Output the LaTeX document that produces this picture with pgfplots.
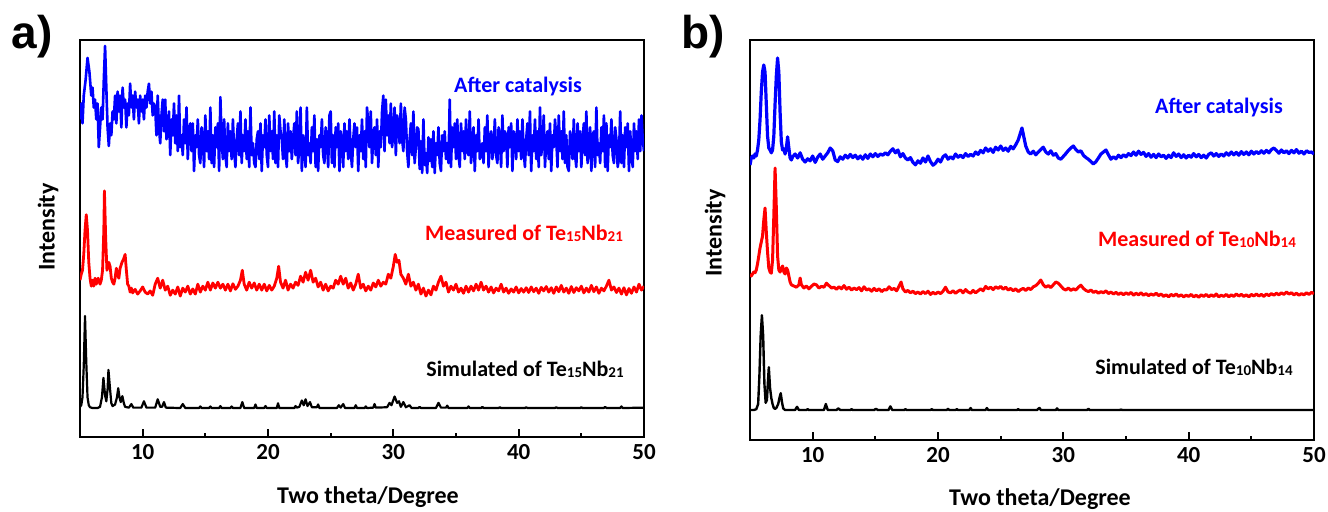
\documentclass[border=0pt]{standalone}
\usepackage{fontspec}
\setmainfont{Carlito}
\newfontfamily\panelfont{Liberation Sans}
\usepackage{pgfplots}
\pgfplotsset{compat=1.18}
\definecolor{xblue}{RGB}{0,0,255}
\definecolor{xred}{RGB}{255,0,0}

\newcommand{\sub}[1]{\raisebox{-0.9pt}{\fontsize{7.5}{8}\selectfont #1}}

\pgfplotsset{
  xrd/.style={
    scale only axis,
    xmin=5, xmax=50, ymin=0, ymax=100,
    ytick=\empty,
    xtick={10,20,30,40,50},
    minor xtick={15,25,35,45},
    xtick pos=bottom,
    tick align=inside,
    major tick length=4pt,
    minor tick length=2.2pt,
    axis line style={line width=1.3pt},
    every tick/.style={black, line width=1pt},
    tick label style={font=\fontsize{11.5}{13}\selectfont\bfseries},
    /pgf/number format/assume math mode=true,
    clip=true,
  },
  blueline/.style={xblue, line width=1.3pt, line join=round},
  redline/.style={xred, line width=1.4pt, line join=round},
  blackline/.style={black, line width=1.1pt, line join=round},
}

\begin{document}
\begin{tikzpicture}[x=0.5pt,y=0.5pt]
\path[use as bounding box] (0,0) rectangle (1328,511);

% ---------------- panel a ----------------
\begin{axis}[xrd, at={(40pt,37pt)}, anchor=south west, width=282pt, height=198.5pt]

% after catalysis
\addplot[blueline] coordinates {
(5.0,80)(5.1,84)(5.2,79)(5.3,86)(5.45,90)(5.6,95.5)(5.75,92)(5.9,86)(6.0,88)(6.1,83)
(6.2,85)(6.3,80)(6.4,84)(6.5,73)(6.6,78)(6.7,83)(6.8,80)(6.9,90)(7.0,98.5)(7.1,88)
(7.2,78)(7.3,73.3)(7.4,79)(7.5,76)(7.6,82)(7.7,80)(7.8,86)(7.9,79)(8.0,87)(8.1,82)
(8.2,86)(8.3,78)(8.4,88)(8.5,83)(8.6,85)(8.7,78)(8.8,84)(8.9,81)(9.0,89)(9.1,83)
(9.2,86)(9.3,80)(9.4,87)(9.5,83)(9.6,85)(9.7,79)(9.8,86)(9.9,82)(10.0,85)(10.1,80)
(10.2,86)(10.3,83)(10.4,87)(10.5,89)(10.6,84)(10.7,87)(10.8,81)(10.9,84)(11.0,83)(11.1,76)
(11.2,86)(11.3,78)(11.4,74)(11.5,81)(11.6,85)(11.7,77)(11.8,85)(11.9,75)(12.0,77)(12.1,82)
(12.2,71)(12.3,80)(12.4,76)(12.5,84)(12.6,74)(12.7,81)(12.8,72)(12.9,86)(13.0,73)(13.1,76)
(13.2,71)(13.3,80)(13.4,74)(13.5,83)(13.6,70)(13.7,77)(13.8,79)(13.9,72)(14.0,79)(14.1,67)
(14.2,76)(14.3,73)(14.4,80)(14.5,71)(14.6,69)(14.7,78)(14.8,75)(14.9,68)(15.0,81)(15.1,72)
(15.2,77)(15.3,70)(15.4,83)(15.5,69)(15.6,76)(15.7,68)(15.8,78)(15.9,73)(16.0,79)(16.1,67)
(16.2,85.6)(16.3,75)(16.4,70)(16.5,80)(16.6,71)(16.7,68)(16.8,79)(16.9,72)(17.0,77)(17.1,70)
(17.2,80)(17.3,72)(17.4,68)(17.5,75)(17.6,79)(17.7,71)(17.8,82)(17.9,69)(18.0,76)(18.1,72)
(18.2,80)(18.3,70)(18.4,77)(18.5,68)(18.6,83)(18.7,71)(18.8,74)(18.9,69)(19.0,68)(19.1,75)
(19.2,77)(19.3,70)(19.4,79)(19.5,67)(19.6,76)(19.7,73)(19.8,80)(19.9,71)(20.0,68)(20.1,81)
(20.2,72)(20.3,77)(20.4,70)(20.5,82)(20.6,69)(20.7,76)(20.8,68)(20.9,81)(21.0,77)(21.1,75)
(21.2,70)(21.3,80)(21.4,71)(21.5,68)(21.6,79)(21.7,72)(21.8,77)(21.9,70)(22.0,75)(22.1,79)
(22.2,71)(22.3,82)(22.4,69)(22.5,73)(22.6,83)(22.7,67)(22.8,76)(22.9,72)(23.0,68)(23.1,83)
(23.2,71)(23.3,74)(23.4,69)(23.5,78)(23.6,72)(23.7,81)(23.8,68)(23.9,75)(24.0,67)(24.1,76)
(24.2,73)(24.3,80)(24.4,71)(24.5,69)(24.6,78)(24.7,75)(24.8,68)(24.9,81)(25.0,82)(25.1,69)
(25.2,76)(25.3,68)(25.4,78)(25.5,73)(25.6,79)(25.7,67)(25.8,77)(25.9,75)(26.0,68)(26.1,79)
(26.2,72)(26.3,77)(26.4,70)(26.5,80)(26.6,72)(26.7,68)(26.8,75)(26.9,79)(27.0,73)(27.1,78)
(27.2,67)(27.3,76)(27.4,72)(27.5,80)(27.6,70)(27.7,77)(27.8,68)(27.9,83)(28.0,79)(28.1,73)
(28.2,82)(28.3,69)(28.4,76)(28.5,78)(28.6,71)(28.7,80)(28.8,68)(28.9,77)(29.0,73)(29.1,82)
(29.2,86)(29.3,72)(29.4,85)(29.5,76)(29.6,81)(29.7,74)(29.8,84)(29.9,73)(30.0,77)(30.1,83)
(30.2,71)(30.3,81)(30.4,79)(30.5,74)(30.6,84)(30.7,75)(30.8,72)(30.9,83)(31.0,80)(31.1,72)
(31.2,68)(31.3,75)(31.4,79)(31.5,71)(31.6,82)(31.7,69)(31.8,73)(31.9,78)(32.0,77.5)(32.1,67.5)
(32.2,74.5)(32.3,66.5)(32.4,80)(32.5,68.5)(32.6,71.5)(32.7,66.5)(32.8,75.5)(32.9,69.5)(33.0,75)(33.1,68)
(33.2,77)(33.3,66.5)(33.4,74)(33.5,71)(33.6,78)(33.7,69)(33.8,67)(33.9,76)(34.0,72)(34.1,77)
(34.2,70)(34.3,74)(34.4,69)(34.5,85)(34.6,68)(34.7,78)(34.8,73)(34.9,79)(35.0,70)(35.1,80)
(35.2,71)(35.3,68)(35.4,79)(35.5,72)(35.6,77)(35.7,70)(35.8,80)(35.9,72)(36.0,71)(36.1,82)
(36.2,69)(36.3,73)(36.4,78)(36.5,67)(36.6,76)(36.7,72)(36.8,80)(36.9,70)(37.0,71)(37.1,74)
(37.2,69)(37.3,78)(37.4,72)(37.5,81)(37.6,68)(37.7,75)(37.8,77)(37.9,70)(38.0,73)(38.1,80)
(38.2,71)(38.3,69)(38.4,78)(38.5,75)(38.6,68)(38.7,81)(38.8,72)(38.9,77)(39.0,76)(39.1,68)
(39.2,78)(39.3,73)(39.4,79)(39.5,67)(39.6,77)(39.7,75)(39.8,70)(39.9,80)(40.0,72)(40.1,77)
(40.2,70)(40.3,80)(40.4,72)(40.5,68)(40.6,75)(40.7,79)(40.8,71)(40.9,82)(41.0,67)(41.1,76)
(41.2,72)(41.3,80)(41.4,70)(41.5,77)(41.6,68)(41.7,83)(41.8,71)(41.9,74)(42.0,81)(42.1,68)
(42.2,75)(42.3,77)(42.4,70)(42.5,79)(42.6,67)(42.7,76)(42.8,73)(42.9,80)(43.0,75)(43.1,68)
(43.2,81)(43.3,72)(43.4,77)(43.5,70)(43.6,82)(43.7,69)(43.8,76)(43.9,68)(44.0,67)(44.1,77)
(44.2,75)(44.3,70)(44.4,80)(44.5,71)(44.6,68)(44.7,79)(44.8,72)(44.9,77)(45.0,68)(45.1,75)
(45.2,79)(45.3,71)(45.4,82)(45.5,69)(45.6,73)(45.7,78)(45.8,67)(45.9,76)(46.0,77)(46.1,68)
(46.2,83)(46.3,71)(46.4,74)(46.5,69)(46.6,78)(46.7,72)(46.8,81)(46.9,68)(47.0,79)(47.1,67)
(47.2,76)(47.3,73)(47.4,80)(47.5,71)(47.6,69)(47.7,78)(47.8,75)(47.9,68)(48.0,70)(48.1,82)
(48.2,69)(48.3,76)(48.4,68)(48.5,78)(48.6,73)(48.7,79)(48.8,67)(48.9,77)(49.0,71)(49.1,68)
(49.2,79)(49.3,72)(49.4,77)(49.5,70)(49.6,80)(49.7,72)(49.8,81)(49.9,75)(50.0,72)
};

% measured
\addplot[redline] coordinates {
(5.0,39.5)(5.1,41)(5.2,42)(5.3,46)(5.4,52)(5.5,56)(5.6,52)(5.7,44)(5.8,40)(5.9,38)
(6.0,39.5)(6.1,38)(6.2,40)(6.3,38.5)(6.45,40)(6.6,38.5)(6.7,39.5)(6.8,42)(6.9,52)(6.95,62)
(7.05,50)(7.15,42)(7.3,44)(7.4,43)(7.5,40)(7.6,39)(7.7,38.5)(7.8,40)(7.9,42.5)(8.0,41)
(8.1,40)(8.2,42.5)(8.35,44)(8.5,45)(8.6,46)(8.7,42)(8.8,38.5)(8.9,38)(9.0,36.5)(9.1,37.5)
(9.2,36.3)(9.4,37.2)(9.6,36)(9.8,36.8)(10.0,37.8)(10.2,36.5)(10.4,36)(10.6,36.8)(10.8,35.7)(11.0,38.5)
(11.2,40)(11.4,37.5)(11.6,39.5)(11.8,37)(12.0,38)(12.2,35.7)(12.4,37)(12.6,36)(12.8,37.8)(13.0,35.5)
(13.2,37.5)(13.4,36.5)(13.6,38)(13.8,36)(14.0,37.3)(14.2,36)(14.4,38.5)(14.6,36.5)(14.8,38)(15.0,37)
(15.2,39)(15.4,37)(15.6,38.8)(15.8,37.5)(16.0,39)(16.2,37.5)(16.4,38.5)(16.6,37)(16.8,38.5)(17.0,36.8)
(17.2,38.6)(17.4,37.2)(17.6,38)(17.8,39.5)(17.95,42)(18.1,38.5)(18.3,37)(18.5,39)(18.7,37.5)(18.9,38.8)
(19.1,37)(19.3,38.5)(19.5,37)(19.7,38.5)(19.9,36.8)(20.1,38.2)(20.3,37)(20.5,38)(20.7,40)(20.85,43)
(21.0,39)(21.2,37.5)(21.4,39.5)(21.6,37)(21.8,38.5)(22.0,37.5)(22.2,39)(22.4,38.2)(22.6,40.5)(22.8,39)
(23.0,41.5)(23.2,39.5)(23.4,42)(23.6,39)(23.8,40)(24.0,37.8)(24.2,39)(24.4,37)(24.6,38.5)(24.8,36.8)
(25.0,38)(25.2,37.5)(25.4,39.5)(25.6,38.5)(25.8,40.5)(26.0,38.5)(26.2,40)(26.4,37.5)(26.6,38.8)(26.8,37)
(27.0,38.5)(27.2,41)(27.4,37.5)(27.6,38.5)(27.8,36.8)(28.0,38)(28.2,37)(28.4,38.8)(28.6,37.8)(28.8,39.5)
(29.0,38)(29.2,39)(29.4,38.5)(29.6,41)(29.8,40)(30.0,43)(30.15,46)(30.3,44)(30.45,44.5)(30.6,41)
(30.8,40)(31.0,38.5)(31.2,41)(31.4,38)(31.6,39)(31.8,37)(32.0,38.5)(32.2,36)(32.4,37.5)(32.6,35.5)
(32.8,37)(33.0,35.8)(33.2,38)(33.4,37)(33.6,39)(33.8,40.5)(34.0,38)(34.2,39)(34.4,36.5)(34.6,38)
(34.8,37)(35.0,38.5)(35.2,36.5)(35.4,37.5)(35.6,36.2)(35.8,38)(36.0,36.5)(36.2,38)(36.4,36.8)(36.6,38.5)
(36.8,37)(37.0,39)(37.2,37)(37.4,38)(37.6,36.5)(37.8,37.8)(38.0,36.3)(38.2,37.5)(38.4,36.8)(38.6,38.5)
(38.8,36.5)(39.0,37.5)(39.2,36.2)(39.4,37.3)(39.6,36.5)(39.8,37.8)(40.0,36.3)(40.2,37.4)(40.4,36.5)(40.6,37.6)
(40.8,36.4)(41.0,37.8)(41.2,36.6)(41.4,37.5)(41.6,36.2)(41.8,37.7)(42.0,36.8)(42.2,37.9)(42.4,36.5)(42.6,37.6)
(42.8,36.2)(43.0,37.8)(43.2,36.6)(43.4,38.2)(43.6,36.5)(43.8,37.5)(44.0,36.2)(44.2,37.9)(44.4,36.4)(44.6,37.6)
(44.8,36.8)(45.0,38)(45.2,36.3)(45.4,37.5)(45.6,36.5)(45.8,38.2)(46.0,36.6)(46.2,37.8)(46.4,36.2)(46.6,37.5)
(46.8,36.8)(47.0,38)(47.2,39.5)(47.4,37)(47.6,37.8)(47.8,36.4)(48.0,37.5)(48.2,36)(48.4,37.6)(48.6,35.8)
(48.8,37.4)(49.0,36.2)(49.2,37.8)(49.4,36.5)(49.6,38.5)(49.8,37)(50.0,38)
};

% simulated
\addplot[blackline] coordinates {
(5.0,7.6)(5.1,8.0)(5.2,10)(5.3,18)(5.4,30.5)(5.5,19)(5.6,10)(5.7,8.0)(5.8,7.5)(6.0,7.3)
(6.4,7.3)(6.6,7.6)(6.75,10)(6.87,14.9)(7.0,10.5)(7.1,9.0)(7.2,12)(7.27,16.9)(7.4,12)(7.5,8.5)
(7.6,7.8)(7.8,8.2)(7.95,10)(8.05,12.3)(8.15,10)(8.25,8.8)(8.38,10.3)(8.5,8.5)(8.6,7.6)(8.9,7.4)
(9.1,8.3)(9.25,7.4)(9.9,7.4)(10.1,9.0)(10.3,7.4)(11.0,7.4)(11.2,9.5)(11.4,7.6)(11.55,7.6)(11.7,8.8)
(11.85,7.4)(13.0,7.3)(13.2,8.3)(13.4,7.3)(14.5,7.3)(14.6,7.7)(14.7,7.3)(15.3,7.3)(15.4,7.7)(15.5,7.3)
(16.1,7.3)(16.2,7.8)(16.3,7.3)(17.0,7.3)(17.1,7.7)(17.2,7.3)(17.8,7.3)(17.95,8.8)(18.1,7.3)(18.9,7.3)
(19.0,8.2)(19.1,7.3)(19.7,7.3)(19.8,7.8)(19.9,7.3)(20.7,7.3)(20.8,8.5)(20.9,7.3)(22.1,7.3)(22.2,7.8)
(22.3,7.4)(22.5,7.6)(22.7,9.2)(22.85,8.0)(23.0,9.5)(23.15,7.8)(23.35,8.8)(23.5,7.5)(23.9,7.5)(24.0,8.2)
(24.1,7.3)(25.5,7.3)(25.65,8.0)(25.8,7.4)(26.0,8.3)(26.15,7.3)(26.9,7.3)(27.0,8.0)(27.1,7.3)(27.7,7.3)
(27.8,7.7)(27.9,7.3)(28.4,7.4)(28.5,8.3)(28.6,7.4)(29.5,7.5)(29.7,8.6)(29.85,8.0)(30.1,10.2)(30.3,8.6)
(30.45,9.0)(30.6,7.6)(30.8,8.8)(31.0,7.5)(31.3,8.0)(31.45,7.3)(32.0,7.3)(32.1,7.6)(32.2,7.3)(33.4,7.3)
(33.6,8.6)(33.8,7.4)(34.2,7.4)(34.3,7.9)(34.4,7.3)(35.9,7.3)(36.0,7.7)(36.1,7.3)(37.0,7.3)(37.1,7.6)
(37.2,7.3)(38.4,7.3)(38.5,7.5)(38.6,7.3)(40.5,7.3)(40.6,7.5)(40.7,7.3)(42.9,7.3)(43.0,7.5)(43.1,7.3)
(44.9,7.3)(45.0,7.5)(45.1,7.3)(46.8,7.3)(46.9,7.6)(47.0,7.3)(48.1,7.3)(48.2,7.7)(48.3,7.3)(50.0,7.4)
};
\end{axis}

% ---------------- panel b ----------------
\begin{axis}[xrd, at={(375pt,35.5pt)}, anchor=south west, width=282pt, height=200pt]

% after catalysis
\addplot[blueline, line width=1.6pt] coordinates {
(5.0,68.75)(5.1,70.5)(5.2,71)(5.3,70.5)(5.4,71.5)(5.5,71)(5.6,72.5)(5.7,75)(5.8,80)(5.9,87)
(6.0,92)(6.1,93.75)(6.2,92)(6.3,84)(6.4,76)(6.5,73)(6.6,72.5)(6.7,71.8)(6.8,72.5)(6.9,76)
(7.0,84)(7.1,91)(7.2,95.5)(7.3,92)(7.4,82)(7.5,74.5)(7.6,72.5)(7.7,72.8)(7.8,71.5)(7.9,73)
(8.0,75.8)(8.1,73)(8.2,70.5)(8.3,70)(8.4,70.8)(8.6,71.5)(8.8,70.5)(9.0,71.8)(9.2,70.2)(9.4,69.5)
(9.6,70.3)(9.8,69.8)(10.0,71)(10.2,69.4)(10.4,70.7)(10.6,71.5)(10.8,70.2)(11.0,71)(11.2,71.8)(11.4,73)
(11.6,72.3)(11.8,70)(12.0,69.6)(12.2,70.8)(12.4,70.2)(12.6,71.2)(12.8,70.5)(13.0,71.4)(13.2,70.6)(13.4,71.2)
(13.6,70.3)(13.8,71)(14.0,70.2)(14.2,71.3)(14.4,70.4)(14.6,71.5)(14.8,70.8)(15.0,71.6)(15.2,70.9)(15.4,71.5)
(15.6,71.2)(15.8,71.8)(16.0,71.3)(16.2,72.2)(16.4,72.8)(16.6,71.8)(16.8,72.5)(17.0,70.8)(17.2,71.6)(17.4,70.5)
(17.6,70)(17.8,70.6)(18.0,69.4)(18.2,68.8)(18.4,69.8)(18.6,69.2)(18.8,70.5)(19.0,69.5)(19.2,71)(19.4,69.6)
(19.6,68.7)(19.8,69.2)(20.0,70.2)(20.2,69.5)(20.4,70.8)(20.6,71.3)(20.8,70.2)(21.0,70.8)(21.2,70.3)(21.4,71.5)
(21.6,70.7)(21.8,71.2)(22.0,70.6)(22.2,71.6)(22.4,70.9)(22.6,71.4)(22.8,71)(23.0,72)(23.2,71.4)(23.4,72.4)
(23.6,71.8)(23.8,73)(24.0,72.2)(24.2,72.8)(24.4,71.9)(24.6,73.2)(24.8,72.5)(25.0,73.5)(25.2,72.4)(25.4,73)
(25.6,72.2)(25.8,73.4)(26.0,72.8)(26.2,73.8)(26.4,75)(26.6,77)(26.7,78)(26.8,76.5)(27.0,73.5)(27.2,72)
(27.4,71.5)(27.6,72.2)(27.8,71.3)(28.0,72)(28.2,72.6)(28.4,73.2)(28.6,72)(28.8,71.5)(29.0,72.3)(29.2,71.2)
(29.4,71.6)(29.6,70.5)(29.8,70.2)(30.0,70.9)(30.2,71.6)(30.4,72.4)(30.6,73)(30.8,73.5)(31.0,72.6)(31.2,72)
(31.4,72.3)(31.6,71.2)(31.8,70.6)(32.0,70.2)(32.2,69.6)(32.4,69)(32.6,69.6)(32.8,70.5)(33.0,71.5)(33.2,72)
(33.4,72.5)(33.6,71.3)(33.8,70.2)(34.0,70.8)(34.2,70.3)(34.4,71.2)(34.6,70.6)(34.8,71.3)(35.0,70.8)(35.2,71.6)
(35.4,71.1)(35.6,72)(35.8,71.2)(36.0,72.2)(36.2,71.4)(36.4,71.9)(36.6,70.9)(36.8,71.6)(37.0,70.7)(37.2,71.4)
(37.4,70.6)(37.6,71.5)(37.8,70.8)(38.0,71.2)(38.2,70.4)(38.4,71.2)(38.6,70.6)(38.8,71.8)(39.0,70.9)(39.2,71.5)
(39.4,70.6)(39.6,71.3)(39.8,70.5)(40.0,71.2)(40.2,70.7)(40.4,71.6)(40.6,70.8)(40.8,71.4)(41.0,70.6)(41.2,71.2)
(41.4,70.5)(41.6,71.4)(41.8,71.8)(42.0,71)(42.2,71.6)(42.4,70.9)(42.6,71.5)(42.8,71)(43.0,71.8)(43.2,71.2)
(43.4,72)(43.6,71.3)(43.8,71.9)(44.0,71.2)(44.2,72.1)(44.4,71.4)(44.6,72)(44.8,71.3)(45.0,72.2)(45.2,71.5)
(45.4,72.1)(45.6,71.6)(45.8,72.3)(46.0,71.7)(46.2,72.4)(46.4,71.8)(46.6,72.6)(46.8,73)(47.0,72.4)(47.2,71.7)
(47.4,72.5)(47.6,71.8)(47.8,72.3)(48.0,71.6)(48.2,72.4)(48.4,71.8)(48.6,72.6)(48.8,71.7)(49.0,72.2)(49.2,71.5)
(49.4,72.3)(49.6,71.9)(49.8,72)(50.0,71.5)
};

% measured
\addplot[redline, line width=1.5pt] coordinates {
(5.0,41.5)(5.1,41)(5.2,41.5)(5.3,42)(5.4,41.8)(5.5,42.5)(5.6,44)(5.7,46)(5.8,48)(5.9,49.5)
(6.0,51)(6.1,55)(6.2,58)(6.3,52)(6.4,47)(6.5,43)(6.6,42)(6.7,41.7)(6.8,45)(6.9,56)
(7.0,68)(7.1,58)(7.2,46)(7.3,42.5)(7.4,42)(7.5,42.8)(7.6,43.5)(7.7,42)(7.8,41.5)(7.9,43)
(8.0,42.5)(8.1,41)(8.2,39.5)(8.3,38.8)(8.5,38.5)(8.7,38.2)(8.9,38.8)(9.0,40.5)(9.1,38.8)(9.3,38)
(9.5,38.5)(9.7,37.8)(9.9,38.4)(10.1,39)(10.3,38.8)(10.5,38)(10.7,38.4)(10.9,38.2)(11.1,39.2)(11.3,38.6)
(11.5,38)(11.7,38.2)(11.9,37.7)(12.1,38.3)(12.3,37.8)(12.5,38.6)(12.7,37.7)(12.9,38.2)(13.1,37.5)(13.3,38)
(13.5,37.6)(13.7,38.1)(13.9,37.3)(14.1,38.3)(14.3,37.5)(14.5,37.8)(14.7,37.2)(14.9,37.9)(15.1,37.3)(15.3,37.8)
(15.5,37.1)(15.7,37.6)(15.9,37.5)(16.1,38.3)(16.3,37.6)(16.5,37.9)(16.7,37.3)(16.9,38.5)(17.05,39.5)(17.2,37.8)
(17.4,37)(17.6,37.4)(17.8,36.8)(18.0,37.2)(18.2,36.6)(18.4,37)(18.6,36.5)(18.8,37.1)(19.0,36.6)(19.2,37.2)
(19.4,36.4)(19.6,36.9)(19.8,36.5)(20.0,37)(20.2,36.6)(20.4,37.2)(20.6,38.2)(20.8,37)(21.0,36.8)(21.2,37.3)
(21.4,36.7)(21.6,37.2)(21.8,37.5)(22.0,36.8)(22.2,37.6)(22.4,37)(22.6,36.7)(22.8,37.4)(23.0,36.8)(23.2,37.3)
(23.4,37.8)(23.6,37.3)(23.8,38.4)(24.0,37.8)(24.2,38.2)(24.4,37.6)(24.6,38.3)(24.8,37.9)(25.0,38.4)(25.2,37.7)
(25.4,38.2)(25.6,37.5)(25.8,37.9)(26.0,37.3)(26.2,37.8)(26.4,37.1)(26.6,37.6)(26.8,37.9)(27.0,37.4)(27.2,38)
(27.4,37.6)(27.6,38.3)(27.8,38.6)(28.0,39.2)(28.2,40)(28.4,38.8)(28.6,38.2)(28.8,38.6)(29.0,38.1)(29.2,38.8)
(29.4,39.5)(29.6,39.2)(29.8,38.5)(30.0,37.8)(30.2,37.5)(30.4,38)(30.6,37.4)(30.8,37.8)(31.0,37.5)(31.2,38.2)
(31.4,38.7)(31.6,37.9)(31.8,37.4)(32.0,37.1)(32.2,37.5)(32.4,36.9)(32.6,37.2)(32.8,36.7)(33.0,37.1)(33.2,36.8)
(33.4,37.3)(33.6,36.6)(33.8,37)(34.0,36.5)(34.2,36.9)(34.4,36.4)(34.6,36.8)(34.8,36.3)(35.0,36.8)(35.2,36.4)
(35.4,36.9)(35.6,36.2)(35.8,36.7)(36.0,36.3)(36.2,36.8)(36.4,36.2)(36.6,36.6)(36.8,36.1)(37.0,36.5)(37.2,36.2)
(37.4,36.7)(37.6,36.1)(37.8,36.5)(38.0,35.9)(38.2,36.3)(38.4,35.8)(38.6,36.4)(38.8,36)(39.0,36.5)(39.2,35.9)
(39.4,36.3)(39.6,35.8)(39.8,36.2)(40.0,35.9)(40.2,36.4)(40.4,35.8)(40.6,36.2)(40.8,35.7)(41.0,36.3)(41.2,35.9)
(41.4,36.4)(41.6,35.8)(41.8,36.3)(42.0,35.9)(42.2,36.5)(42.4,35.8)(42.6,36.2)(42.8,35.9)(43.0,36.4)(43.2,35.8)
(43.4,36.3)(43.6,35.9)(43.8,36.5)(44.0,36)(44.2,36.4)(44.4,35.9)(44.6,36.3)(44.8,35.8)(45.0,36.4)(45.2,36)
(45.4,36.5)(45.6,36)(45.8,36.4)(46.0,35.9)(46.2,36.5)(46.4,36.1)(46.6,36.6)(46.8,36.2)(47.0,36.7)(47.2,36.3)
(47.4,36.8)(47.6,36.4)(47.8,37)(48.0,36.5)(48.2,36.8)(48.4,36.3)(48.6,36.7)(48.8,36.2)(49.0,36.6)(49.2,36.3)
(49.4,36.8)(49.6,36.4)(49.8,36.9)(50.0,36.6)
};

% simulated
\addplot[blackline, line width=1.2pt] coordinates {
(5.0,7.5)(5.3,7.5)(5.5,7.7)(5.65,9)(5.75,16)(5.85,26)(5.95,31.2)(6.05,26)(6.15,14)(6.25,9.3)
(6.35,10)(6.42,14)(6.5,18.2)(6.6,13)(6.7,10.5)(6.8,9)(6.9,8)(7.0,7.8)(7.1,8)(7.25,9)
(7.35,10.5)(7.45,11.7)(7.55,9.5)(7.65,7.9)(7.8,7.5)(8.6,7.5)(8.75,8.3)(8.9,7.5)(9.5,7.5)(9.6,7.7)
(9.7,7.5)(10.9,7.5)(11.05,9.0)(11.2,7.5)(11.9,7.5)(12.05,7.9)(12.2,7.5)(13.0,7.5)(13.1,7.7)(13.2,7.5)
(14.9,7.5)(15.05,7.8)(15.2,7.5)(16.05,7.5)(16.2,8.4)(16.35,7.5)(17.3,7.5)(17.4,7.7)(17.5,7.5)(19.4,7.5)
(19.5,7.7)(19.6,7.5)(20.7,7.5)(20.8,7.8)(20.9,7.5)(21.4,7.5)(21.5,7.7)(21.6,7.5)(22.5,7.5)(22.6,8.0)
(22.7,7.5)(23.8,7.5)(23.9,8.0)(24.0,7.5)(26.3,7.5)(26.4,7.7)(26.5,7.5)(27.9,7.5)(28.0,7.8)(28.1,8.0)
(28.2,7.5)(29.4,7.5)(29.5,7.9)(29.6,7.5)(31.9,7.5)(32.0,7.8)(32.1,7.5)(34.5,7.5)(34.6,7.6)(34.7,7.5)
(50.0,7.5)
};
\end{axis}

% ---------------- texts ----------------
\node[font=\panelfont\bfseries\fontsize{23}{26}\selectfont] at (32,474) {a)};
\node[font=\panelfont\bfseries\fontsize{23}{26}\selectfont] at (703,474) {b)};

\begin{scope}[every node/.style={font=\bfseries\fontsize{11}{13}\selectfont, anchor=base, inner sep=0pt}]
\node[xblue] at (518,419) {After catalysis};
\node[xred] at (524,271) {Measured of Te\sub{15}Nb\sub{21}};
\node[black] at (525,135) {Simulated of Te\sub{15}Nb\sub{21}};
\node[xblue] at (1219,398) {After catalysis};
\node[xred] at (1197,265) {Measured of Te\sub{10}Nb\sub{14}};
\node[black] at (1194,137) {Simulated of Te\sub{10}Nb\sub{14}};
\end{scope}

\begin{scope}[every node/.style={font=\bfseries\fontsize{12}{14}\selectfont, inner sep=0pt}]
\node[rotate=90] at (48,284) {Intensity};
\node[rotate=90] at (715,278) {Intensity};
\node[anchor=base] at (368,8) {Two theta/Degree};
\node[anchor=base] at (1040,6) {Two theta/Degree};
\end{scope}
\end{tikzpicture}
\end{document}
